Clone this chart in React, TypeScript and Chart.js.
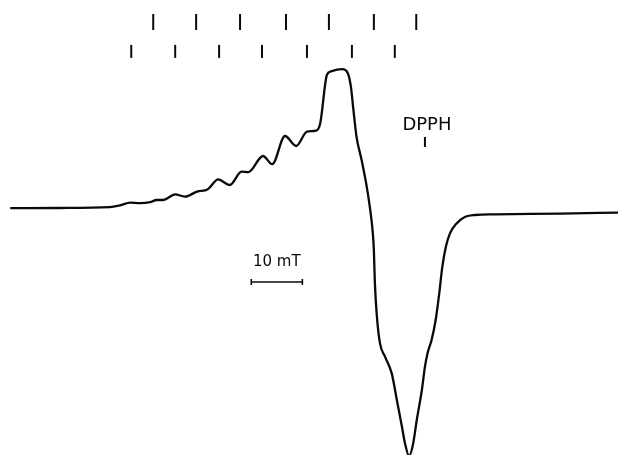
import React, { useEffect, useRef } from "react";
import { Chart, registerables } from "chart.js";

Chart.register(...registerables);

// Magnetic field (mT) and first-derivative EPR signal (arbitrary units)
const fieldMT: number[] = [
  257.0, 266.7, 276.5, 278.5, 280.5, 282.4, 284.4, 285.7, 286.9, 289.3,
  291.2, 293.6, 295.7, 297.7, 300.0, 302.3, 303.6, 306.5, 308.3, 310.8,
  313.0, 315.1, 316.9, 317.7, 319.0, 319.8, 322.0, 323.1, 323.7, 324.2,
  324.8, 325.8, 326.8, 327.4, 328.0, 328.2, 328.4, 328.8, 329.4, 330.4,
  331.7, 332.7, 333.7, 334.3, 335.1, 335.9, 336.6, 337.6, 338.2, 338.7,
  339.5, 340.3, 341.0, 341.6, 342.3, 343.1, 344.4, 346.1, 348.0, 351.9,
  364.7, 376.0,
];
const signal: number[] = [
  0.9, 1.0, 1.4, 2.3, 3.7, 3.4, 3.9, 5.0, 5.0, 7.8,
  6.7, 9.2, 10.4, 15.3, 12.5, 19.2, 18.9, 27.0, 22.9, 37.0,
  32.0, 39.2, 39.7, 43.4, 67.5, 69.3, 70.4, 68.4, 61.7, 50.0,
  36.7, 25.0, 11.7, 1.7, -11.7, -20.0, -36.7, -53.4, -66.7, -73.4,
  -81.7, -95.0, -108.4, -116.7, -123.0, -116.7, -105.0, -90.0, -78.4, -71.7,
  -65.0, -55.0, -41.7, -28.4, -18.4, -11.7, -6.7, -3.4, -2.5, -2.2,
  -1.8, -1.3,
];

// Hyperfine stick markers (mT)
const markersUpper: number[] = [285.0, 293.4, 302.0, 311.0, 319.4, 328.2, 336.5];
const markersLower: number[] = [280.7, 289.3, 297.9, 306.3, 315.1, 323.9, 332.3];
const markerUpperLevel = 94;
const markerLowerLevel = 79.3;

// DPPH reference position
const dpphField = 338.2;
const dpphLevel = 34;
const dpphLabel = "DPPH";

// Scale bar
const scaleBarStart = 304.2;
const scaleBarEnd = 314.2;
const scaleBarLevel = -36;
const scaleBarLabel = "10 mT";

const fieldMin = 255;
const fieldMax = 376;
const signalMin = -122.5;
const signalMax = 105;

const INK = "#0a0a0a";

export default function App() {
  const canvasRef = useRef<HTMLCanvasElement | null>(null);

  useEffect(() => {
    const canvas = canvasRef.current;
    if (!canvas) return;

    const spectrum = fieldMT.map((x, i) => ({ x, y: signal[i] }));

    const labelPlugin = {
      id: "labels",
      afterDatasetsDraw(chart: any) {
        const { ctx, scales } = chart;
        const xs = scales.x;
        const ys = scales.y;
        ctx.save();
        ctx.fillStyle = INK;
        ctx.textAlign = "center";
        ctx.textBaseline = "bottom";
        ctx.font = "18px 'DejaVu Sans'";
        ctx.fillText(dpphLabel, xs.getPixelForValue(dpphField) + 2, ys.getPixelForValue(dpphLevel) - 8);
        ctx.font = "15px 'DejaVu Sans'";
        ctx.fillText(
          scaleBarLabel,
          xs.getPixelForValue((scaleBarStart + scaleBarEnd) / 2),
          ys.getPixelForValue(scaleBarLevel) - 12
        );
        ctx.restore();
      },
    };

    const chart = new Chart(canvas, {
      type: "line",
      data: {
        datasets: [
          {
            data: spectrum,
            borderColor: INK,
            borderWidth: 2.3,
            pointRadius: 0,
            cubicInterpolationMode: "monotone",
            fill: false,
            clip: false as any,
          },
          {
            data: markersUpper.map((x) => ({ x, y: markerUpperLevel })),
            showLine: false,
            pointStyle: "line",
            rotation: 90,
            pointRadius: 8,
            borderColor: INK,
            pointBorderWidth: 2,
          } as any,
          {
            data: markersLower.map((x) => ({ x, y: markerLowerLevel })),
            showLine: false,
            pointStyle: "line",
            rotation: 90,
            pointRadius: 6.5,
            borderColor: INK,
            pointBorderWidth: 2,
          } as any,
          {
            data: [{ x: dpphField, y: dpphLevel }],
            showLine: false,
            pointStyle: "line",
            rotation: 90,
            pointRadius: 5,
            borderColor: INK,
            pointBorderWidth: 2,
          } as any,
          {
            data: [
              { x: scaleBarStart, y: scaleBarLevel },
              { x: scaleBarEnd, y: scaleBarLevel },
            ],
            borderColor: INK,
            borderWidth: 1.6,
            pointStyle: "line",
            rotation: 90,
            pointRadius: 3,
            pointBorderWidth: 1.6,
          } as any,
        ],
      },
      options: {
        animation: false,
        responsive: false,
        layout: { padding: 0, autoPadding: false } as any,
        plugins: {
          legend: { display: false },
          tooltip: { enabled: false },
        },
        scales: {
          x: { type: "linear", min: fieldMin, max: fieldMax, display: false },
          y: { type: "linear", min: signalMin, max: signalMax, display: false },
        },
      },
      plugins: [labelPlugin],
    });

    return () => chart.destroy();
  }, []);

  return (
    <div style={{ position: "absolute", left: 0, top: 0, width: 618, height: 455, background: "#fff" }}>
      <canvas ref={canvasRef} width={618} height={455} />
    </div>
  );
}
